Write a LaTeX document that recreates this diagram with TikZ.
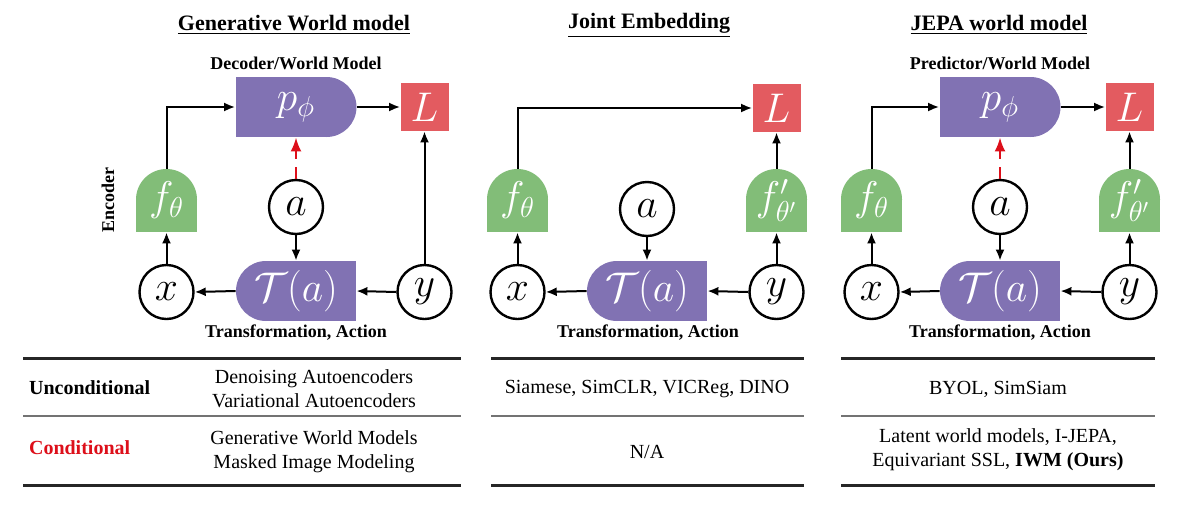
\documentclass[tikz,border=0pt]{standalone}
\usepackage{amsmath,amssymb}
\usepackage{xcolor}
\usepackage{fontspec}
\setmainfont{Liberation Serif}
\usepackage{tikz}
\usetikzlibrary{shapes,arrows,arrows.meta,positioning,calc}

\definecolor{purp}{HTML}{8172B3}
\definecolor{grn}{HTML}{82BD78}
\definecolor{lossred}{HTML}{E35B60}
\definecolor{condred}{HTML}{DD0F1A}

\begin{document}
\begin{tikzpicture}[x=0.5pt,y=-0.5pt,>={Latex[length=5.5pt,width=4.5pt]},
  mathtxt/.style={font=\fontsize{20}{22}\selectfont},
  var/.style={mathtxt,circle,draw,line width=1.2pt,fill=white,minimum size=27pt,inner sep=0pt},
  predbox/.style={mathtxt,text=white,minimum width=60.5pt,minimum height=30pt,inner sep=0pt,
    path picture={\fill[purp] (path picture bounding box.south west) rectangle ([xshift=-15pt]path picture bounding box.north east);
      \fill[purp] ([xshift=-15pt]path picture bounding box.east) circle (15pt);}},
  transbox/.style={mathtxt,text=white,minimum width=60pt,minimum height=30pt,inner sep=0pt,
    path picture={\fill[purp] ([xshift=15pt]path picture bounding box.south west) rectangle (path picture bounding box.north east);
      \fill[purp] ([xshift=15pt]path picture bounding box.west) circle (15pt);}},
  encbox/.style={mathtxt,text=white,minimum width=30.5pt,minimum height=31.5pt,inner sep=0pt,
    path picture={\fill[grn] (path picture bounding box.south west) rectangle ([yshift=-15.25pt]path picture bounding box.north east);
      \fill[grn] ([yshift=-15.25pt]path picture bounding box.north) circle (15.25pt);}},
  lossbox/.style={mathtxt,text=white,fill=lossred,minimum size=24pt,inner sep=0pt},
  arr/.style={->,line width=1pt},
  actarr/.style={-{Latex[length=7pt,width=5.5pt]},line width=1.2pt,condred,dash pattern=on 6pt off 4pt},
  lbl/.style={font=\bfseries\fontsize{9}{10}\selectfont},
  ttl/.style={font=\bfseries\fontsize{11}{12}\selectfont},
  tab/.style={font=\fontsize{10}{12}\selectfont,align=center},
  toprule/.style={line width=1.5pt,black!85},
  midrule/.style={line width=1pt,black!55}]
\useasboundingbox (0,0) rectangle (1192,509);

\node[ttl] (t1) at (294,25) {\underline{Generative World model}};
\node[ttl] (t2) at (649,25) {\underline{Joint Embedding}};
\node[ttl] (t3) at (999,25) {\underline{JEPA world model}};

\node[predbox] (p1) at (296,107) {$p_\phi$};
\node[lossbox] (L1) at (424.5,107) {$L$};
\node[encbox] (f1) at (166.5,200.5) {$f_\theta$};
\node[var] (a1) at (296,207) {$a$};
\node[var] (x1) at (166.5,292) {$x$};
\node[var] (y1) at (424.5,292) {$y$};
\node[transbox] (T1) at (296,291) {$\mathcal{T}(a)$};
\node[lbl] (d1) at (296,63) {Decoder/World Model};
\node[lbl] (s1) at (296,333) {Transformation, Action};
\node[lbl,rotate=90] (e1) at (108,200) {Encoder};
\draw[arr] (f1.north) |- (p1.west);
\draw[arr] (p1.east) -- (L1.west);
\draw[arr] (y1.north) -- (L1.south);
\draw[arr] (a1.south) -- (T1.north);
\draw[arr] (y1.west) -- (T1.east);
\draw[arr] (T1.west) -- (x1.east);
\draw[arr] (x1.north) -- (f1.south);
\draw[actarr] (a1.north) -- (p1.south);

\node[lossbox] (L2) at (776.5,108) {$L$};
\node[encbox] (f2) at (517.5,200.5) {$f_\theta$};
\node[encbox] (g2) at (776.5,200.5) {$f'_{\theta'}$};
\node[var] (a2) at (647,209) {$a$};
\node[var] (x2) at (517.5,292) {$x$};
\node[var] (y2) at (776.5,292) {$y$};
\node[transbox] (T2) at (647,291) {$\mathcal{T}(a)$};
\node[lbl] (s2) at (648,333) {Transformation, Action};
\draw[arr] (f2.north) |- (L2.west);
\draw[arr] (g2.north) -- (L2.south);
\draw[arr] (y2.north) -- (g2.south);
\draw[arr] (a2.south) -- (T2.north);
\draw[arr] (y2.west) -- (T2.east);
\draw[arr] (T2.west) -- (x2.east);
\draw[arr] (x2.north) -- (f2.south);

\node[predbox] (p3) at (1000,107) {$p_\phi$};
\node[lossbox] (L3) at (1129.5,107) {$L$};
\node[encbox] (f3) at (871.5,200.5) {$f_\theta$};
\node[encbox] (g3) at (1129.5,200.5) {$f'_{\theta'}$};
\node[var] (a3) at (1000,207) {$a$};
\node[var] (x3) at (871.5,292) {$x$};
\node[var] (y3) at (1129.5,292) {$y$};
\node[transbox] (T3) at (1000,291) {$\mathcal{T}(a)$};
\node[lbl] (d3) at (1000,63) {Predictor/World Model};
\node[lbl] (s3) at (1000,333) {Transformation, Action};
\draw[arr] (f3.north) |- (p3.west);
\draw[arr] (p3.east) -- (L3.west);
\draw[arr] (g3.north) -- (L3.south);
\draw[arr] (y3.north) -- (g3.south);
\draw[arr] (a3.south) -- (T3.north);
\draw[arr] (y3.west) -- (T3.east);
\draw[arr] (T3.west) -- (x3.east);
\draw[arr] (x3.north) -- (f3.south);
\draw[actarr] (a3.north) -- (p3.south);

\draw[toprule] (23,358) -- (461,358);
\draw[toprule] (491,358) -- (804,358);
\draw[toprule] (841,358) -- (1155,358);
\draw[midrule] (23,416) -- (461,416);
\draw[midrule] (491,416) -- (804,416);
\draw[midrule] (841,416) -- (1155,416);
\draw[toprule] (23,485) -- (461,485);
\draw[toprule] (491,485) -- (804,485);
\draw[toprule] (841,485) -- (1155,485);

\node[tab,anchor=west,font=\bfseries\fontsize{10}{12}\selectfont] (uc) at (22,388) {Unconditional};
\node[tab,anchor=west,font=\bfseries\fontsize{10}{12}\selectfont,text=condred] (cd) at (22,448) {Conditional};
\node[tab] (r11) at (314,389) {Denoising Autoencoders\\Variational Autoencoders};
\node[tab] (r12) at (314,452) {Generative World Models\\Masked Image Modeling};
\node[tab] (r21) at (647,389) {Siamese, SimCLR, VICReg, DINO};
\node[tab] (r22) at (647,452) {N/A};
\node[tab] (r31) at (998,389) {BYOL, SimSiam};
\node[tab] (r32) at (998,450) {Latent world models, I-JEPA,\\Equivariant SSL, \textbf{IWM (Ours)}};
\end{tikzpicture}
\end{document}
